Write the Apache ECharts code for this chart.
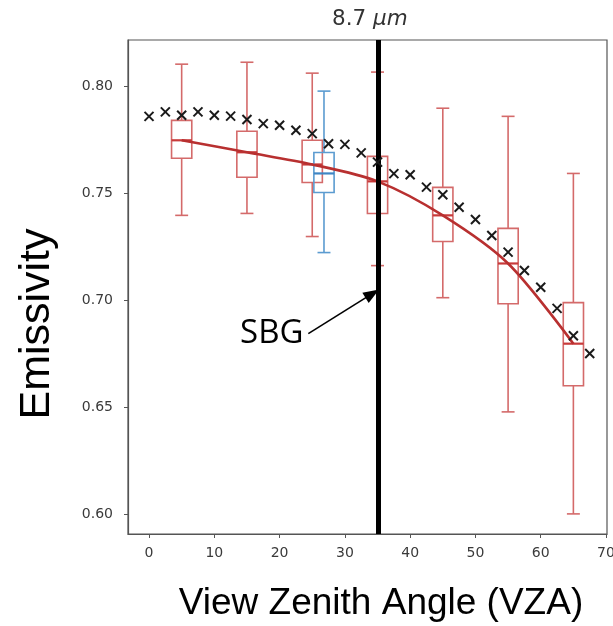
<!DOCTYPE html>
<html>
<head>
<meta charset="utf-8">
<script src="https://cdn.jsdelivr.net/npm/echarts@6/dist/echarts.min.js"></script>
<style>html,body{margin:0;padding:0;background:#fff}#c{width:613px;height:626px}</style>
</head>
<body>
<div id="c"></div>
<script>
// ---- data ----
const xTicks = [0, 10, 20, 30, 40, 50, 60, 70];
const yTicks = [0.60, 0.65, 0.70, 0.75, 0.80];

// red box plots (per VZA bin)
const boxVza  = [5, 15, 25, 35, 45, 55, 65];
const boxLow  = [0.7396, 0.7405, 0.7297, 0.7161, 0.7011, 0.6477, 0.6000];
const boxQ1   = [0.7663, 0.7574, 0.7550, 0.7405, 0.7274, 0.6983, 0.6599];
const boxMed  = [0.7747, 0.7691, 0.7634, 0.7555, 0.7396, 0.7171, 0.6796];
const boxQ3   = [0.7840, 0.7789, 0.7747, 0.7672, 0.7527, 0.7335, 0.6988];
const boxHigh = [0.8103, 0.8112, 0.8061, 0.8066, 0.7897, 0.7859, 0.7592];

// blue box plot
const blueVza  = [26.8];
const blueLow  = [0.7222];
const blueQ1   = [0.7503];
const blueMed  = [0.7592];
const blueQ3   = [0.7690];
const blueHigh = [0.7977];

// black x markers
const markVza = [0, 2.5, 5, 7.5, 10, 12.5, 15, 17.5, 20, 22.5, 25, 27.5, 30, 32.5,
                 35, 37.5, 40, 42.5, 45, 47.5, 50, 52.5, 55, 57.5, 60, 62.5, 65, 67.5];
const markEmis = [0.7859, 0.7880, 0.7864, 0.7880, 0.7864, 0.7860, 0.7844, 0.7825, 0.7817, 0.7794,
                  0.7778, 0.7731, 0.7728, 0.7688, 0.7645, 0.7591, 0.7586, 0.7528, 0.7492, 0.7434,
                  0.7377, 0.7302, 0.7224, 0.7138, 0.7060, 0.6961, 0.6833, 0.6750];

// SBG line and annotation
const sbgVza = 35.1;
const sbgLabelPos = [18.8, 0.6843];
const sbgArrowFrom = [24.4, 0.6843];
const sbgArrowTo = [34.2, 0.7030];

const xMin = -3.22, xMax = 70.15, yMin = 0.5906, yMax = 0.8216;

// ---- chart ----
const boxData = boxVza.map((x, i) => [x, boxLow[i], boxQ1[i], boxMed[i], boxQ3[i], boxHigh[i]]);
const blueData = blueVza.map((x, i) => [x, blueLow[i], blueQ1[i], blueMed[i], blueQ3[i], blueHigh[i]]);
const lineData = boxVza.map((x, i) => [x, boxMed[i]]);
const markData = markVza.map((x, i) => [x, markEmis[i]]);

function boxRender(color, medColor) {
  return function (params, api) {
    const x = api.value(0);
    const pL = api.coord([x, api.value(1)]);
    const p1 = api.coord([x, api.value(2)]);
    const pM = api.coord([x, api.value(3)]);
    const p3 = api.coord([x, api.value(4)]);
    const pH = api.coord([x, api.value(5)]);
    const w = api.size([3.1, 0])[0];
    const cw = w * 0.32;
    const ls = { stroke: color, lineWidth: 1.6 };
    return {
      type: 'group',
      children: [
        { type: 'line', shape: { x1: pL[0], y1: pL[1], x2: p1[0], y2: p1[1] }, style: ls },
        { type: 'line', shape: { x1: p3[0], y1: p3[1], x2: pH[0], y2: pH[1] }, style: ls },
        { type: 'line', shape: { x1: pL[0] - cw, y1: pL[1], x2: pL[0] + cw, y2: pL[1] }, style: ls },
        { type: 'line', shape: { x1: pH[0] - cw, y1: pH[1], x2: pH[0] + cw, y2: pH[1] }, style: ls },
        { type: 'rect', shape: { x: p3[0] - w / 2, y: p3[1], width: w, height: p1[1] - p3[1] },
          style: { fill: 'rgba(255,255,255,0)', stroke: color, lineWidth: 1.6 } },
        { type: 'line', shape: { x1: pM[0] - w / 2, y1: pM[1], x2: pM[0] + w / 2, y2: pM[1] },
          style: { stroke: medColor, lineWidth: 2.2 } }
      ]
    };
  };
}

function xMarkRender(params, api) {
  const p = api.coord([api.value(0), api.value(1)]);
  const s = 4.5;
  const st = { stroke: '#1a1a1a', lineWidth: 2 };
  return {
    type: 'group',
    children: [
      { type: 'line', shape: { x1: p[0] - s, y1: p[1] - s, x2: p[0] + s, y2: p[1] + s }, style: st },
      { type: 'line', shape: { x1: p[0] - s, y1: p[1] + s, x2: p[0] + s, y2: p[1] - s }, style: st }
    ]
  };
}

function sbgLabelRender(params, api) {
  const p = api.coord([api.value(0), api.value(1)]);
  return {
    type: 'text', x: p[0], y: p[1],
    style: { text: 'SBG', fontFamily: 'Open Sans', fontSize: 33, fill: '#000',
             textAlign: 'center', textVerticalAlign: 'middle', opacity: 1 }
  };
}

const chart = echarts.init(document.getElementById('c'), null, { renderer: 'canvas' });
const tickFont = { fontFamily: 'DejaVu Sans', fontSize: 14, color: '#3a3a3a' };

chart.setOption({
  animation: false,
  backgroundColor: '#fff',
  title: {
    text: '{a|8.7 }{b|μm}',
    left: 327, top: 3,
    textStyle: {
      fontWeight: 'normal',
      rich: {
        a: { fontFamily: 'DejaVu Sans', fontSize: 21.5, color: '#333', fontWeight: 'normal' },
        b: { fontFamily: 'DejaVu Sans', fontSize: 21.5, color: '#333', fontStyle: 'italic', fontWeight: 'normal' }
      }
    }
  },
  graphic: [
    { type: 'text', x: 381, y: 604, silent: true,
      style: { text: 'View Zenith Angle (VZA)', fontFamily: 'Liberation Sans', fontSize: 37, fill: '#000',
               textAlign: 'center', textVerticalAlign: 'middle' } },
    { type: 'text', x: 37, y: 324, rotation: Math.PI / 2, silent: true,
      style: { text: 'Emissivity', fontFamily: 'Liberation Sans', fontSize: 43, fill: '#000',
               textAlign: 'center', textVerticalAlign: 'middle' } }
  ],
  grid: { left: 128, right: 6, top: 40, bottom: 92, outerBoundsMode: 'none', containLabel: false,
          show: true, borderColor: '#555', borderWidth: 1.2, backgroundColor: 'transparent' },
  xAxis: {
    type: 'value', min: xMin, max: xMax,
    axisLine: { show: true, onZero: false, lineStyle: { color: '#555', width: 1.2 } },
    axisTick: { show: true, length: 4, lineStyle: { color: '#555' }, customValues: xTicks },
    axisLabel: Object.assign({ customValues: xTicks, margin: 12 }, tickFont),
    splitLine: { show: false }
  },
  yAxis: {
    type: 'value', min: yMin, max: yMax,
    axisLine: { show: true, onZero: false, lineStyle: { color: '#555', width: 1.2 } },
    axisTick: { show: true, length: 4, lineStyle: { color: '#555' }, customValues: yTicks },
    axisLabel: Object.assign({ customValues: yTicks, margin: 15, formatter: v => v.toFixed(2) }, tickFont),
    splitLine: { show: false }
  },
  series: [
    { type: 'custom', name: 'red boxes', data: boxData, renderItem: boxRender('#d46a6a', '#c83a3a'), z: 2,
      encode: { x: 0, y: [1, 2, 3, 4, 5] } },
    { type: 'custom', name: 'blue box', data: blueData, renderItem: boxRender('#5b9bd0', '#3f86c4'), z: 3,
      encode: { x: 0, y: [1, 2, 3, 4, 5] } },
    { type: 'line', name: 'median', data: lineData, smooth: 0.3, showSymbol: false,
      lineStyle: { color: '#b83030', width: 2.6 }, z: 4 },
    { type: 'custom', name: 'x', data: markData, renderItem: xMarkRender, z: 5,
      encode: { x: 0, y: 1 } },
    { type: 'line', name: 'sbg', data: [], z: 10,
      markLine: {
        silent: true, animation: false,
        label: { show: false },
        data: [
          [{ xAxis: sbgVza, yAxis: yMin, symbol: 'none', lineStyle: { color: '#000', width: 5, type: 'solid' } },
           { xAxis: sbgVza, yAxis: yMax, symbol: 'none' }],
          [{ coord: sbgArrowFrom, symbol: 'none', lineStyle: { color: '#000', width: 1.6, type: 'solid' } },
           { coord: sbgArrowTo, symbol: 'triangle', symbolSize: [12, 16] }]
        ]
      }
    },
    { type: 'custom', name: 'sbgLabel', data: [sbgLabelPos], renderItem: sbgLabelRender, z: 11,
      encode: { x: 0, y: 1 } }
  ]
});
</script>
</body>
</html>
